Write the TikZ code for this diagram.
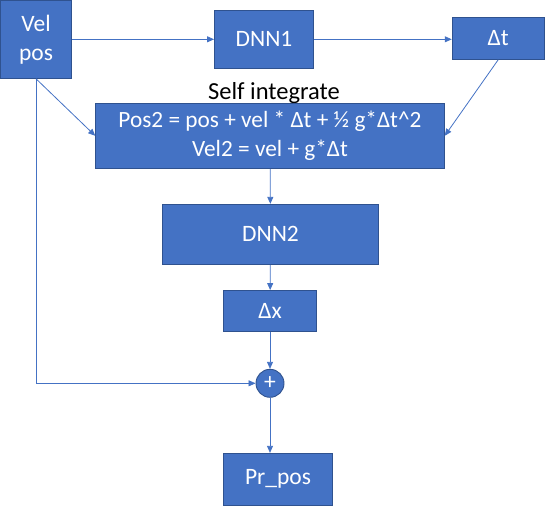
\documentclass[tikz,border=0pt]{standalone}
\usepackage{fontspec}
\setmainfont{Carlito}
\usetikzlibrary{arrows.meta}
\definecolor{boxblue}{HTML}{4472C4}
\definecolor{boxedge}{HTML}{2F528F}
\tikzset{
  blk/.style={draw=boxedge, fill=boxblue, line width=0.9pt, text=white, inner sep=0pt,
    align=center, font=\fontsize{23.5}{29}\selectfont},
  arr/.style={boxblue, line width=0.8pt, -{Triangle[length=7pt,width=6pt]}}
}
\begin{document}
\begin{tikzpicture}[x=1pt, y=-1pt]
  \useasboundingbox (0,0) rectangle (545,507);
  \node[blk, minimum width=71pt, minimum height=78pt] (vp) at (36,39.3) {Vel\\pos};
  \node[blk, minimum width=99pt, minimum height=58pt] (dnn1) at (264,39.3) {DNN1};
  \node[blk, minimum width=92pt, minimum height=42pt] (dt) at (498.2,38.3) {Δt};
  \node[font=\fontsize{24.5}{30}\selectfont, anchor=base] (lbl) at (274,99) {Self integrate};
  \node[blk, font=\fontsize{23.3}{29.4}\selectfont, minimum width=348.6pt, minimum height=65pt] (calc) at (270,135.8)
    {Pos2 = pos + vel * Δt + ½ g*Δt\string^2\\Vel2 = vel + g*Δt};
  \node[blk, minimum width=216pt, minimum height=60pt] (dnn2) at (270.5,234.3) {DNN2};
  \node[blk, minimum width=93pt, minimum height=41pt] (dx) at (270,311) {Δx};
  \node[blk, circle, minimum size=28pt] (plus) at (270,383.3) {+};
  \node[blk, minimum width=109pt, minimum height=52pt] (pr) at (278,479.3) {Pr\_pos};

  \draw[arr] (vp) -- (dnn1);
  \draw[arr] (dnn1.east) -- (dnn1.east -| dt.west);
  \draw[arr] (vp.south) -- (calc.west);
  \draw[arr] (dt.south) -- (calc.east);
  \draw[arr] (calc) -- (dnn2);
  \draw[arr] (dnn2) -- (dx);
  \draw[arr] (dx) -- (plus);
  \draw[arr] (vp.south) |- (plus.west);
  \draw[arr] (plus.south) -- (plus.south |- pr.north);
\end{tikzpicture}
\end{document}
